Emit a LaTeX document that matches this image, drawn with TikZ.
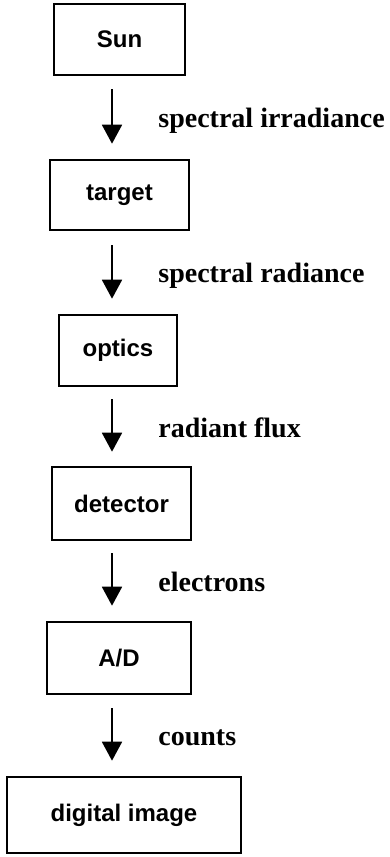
\documentclass[tikz,border=0pt]{standalone}
\usepackage{fontspec}
\setmainfont{Liberation Serif}
\setsansfont{Liberation Sans}
\usetikzlibrary{arrows.meta,calc}
\begin{document}
\begin{tikzpicture}[x=0.5pt,y=-0.5pt,
  box/.style={draw,line width=1.3pt,inner sep=0pt,
    font=\sffamily\bfseries\fontsize{12}{14}\selectfont},
  flow/.style={line width=0.95pt,-{Triangle[length=9.5pt,width=10pt]}},
  lab/.style={anchor=base west,inner sep=0pt,
    font=\bfseries\fontsize{14}{17}\selectfont}]
\fill[white] (0,0) rectangle (390,857);
\useasboundingbox (0,0) rectangle (390,857);
\node[box,minimum width=65.5pt,minimum height=35.5pt] (sun) at (119.5,39.5) {Sun};
\node[box,minimum width=69.5pt,minimum height=35pt] (target) at (119.5,195) {target};
\node[box,minimum width=59pt,minimum height=35.5pt] (optics) at (118,350.5) {optics};
\node[box,minimum width=69.5pt,minimum height=36.5pt] (detector) at (121.5,503.5) {detector};
\node[box,minimum width=72pt,minimum height=36pt] (ad) at (119,658) {A/D};
\node[box,minimum width=117pt,minimum height=38pt] (digital) at (124,815) {digital image};
\coordinate (ax) at (112,0);
\draw[flow] ($(sun.south -| ax)+(0,13)$) -- ($(target.north -| ax)+(0,-15)$);
\draw[flow] ($(target.south -| ax)+(0,14)$) -- ($(optics.north -| ax)+(0,-15)$);
\draw[flow] ($(optics.south -| ax)+(0,12)$) -- ($(detector.north -| ax)+(0,-14)$);
\draw[flow] ($(detector.south -| ax)+(0,12)$) -- ($(ad.north -| ax)+(0,-15)$);
\draw[flow] ($(ad.south -| ax)+(0,13)$) -- ($(digital.north -| ax)+(0,-15)$);
\node[lab] (l1) at (158,127) {spectral irradiance};
\node[lab] (l2) at (158,282) {spectral radiance};
\node[lab] (l3) at (158,437) {radiant flux};
\node[lab] (l4) at (158,591) {electrons};
\node[lab] (l5) at (158,745) {counts};
\end{tikzpicture}
\end{document}
